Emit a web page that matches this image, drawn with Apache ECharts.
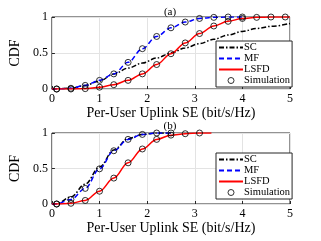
<!DOCTYPE html>
<html><head><meta charset="utf-8">
<script src="https://cdn.jsdelivr.net/npm/echarts@6/dist/echarts.min.js"></script>
<style>html,body{margin:0;padding:0;background:#fff}#c{width:321px;height:241px}</style>
</head><body><div id="c"></div>
<script>
// (a)
const aSCx   = [0, 0.4, 0.7, 1.0, 1.3, 1.6, 1.9, 2.2, 2.5, 2.8, 3.1, 3.4, 3.7, 4.0, 4.3, 4.6, 5.0];
const aSCy   = [0, 0.01, 0.05, 0.11, 0.21, 0.29, 0.36, 0.43, 0.5, 0.57, 0.63, 0.69, 0.75, 0.80, 0.84, 0.87, 0.91];
const aMFx   = [0, 0.1, 0.4, 0.7, 1.0, 1.3, 1.6, 1.9, 2.2, 2.5, 2.8, 3.1, 3.4, 3.7, 4.0];
const aMFy   = [0, 0, 0.01, 0.05, 0.12, 0.21, 0.37, 0.56, 0.73, 0.85, 0.93, 0.98, 0.995, 1, 1];
const aLSFDx = [0, 0.1, 0.4, 0.7, 1.0, 1.3, 1.6, 1.9, 2.2, 2.5, 2.8, 3.1, 3.4, 3.7, 4.0, 4.3, 4.6, 4.9, 5.0];
const aLSFDy = [0, 0, 0, 0.005, 0.025, 0.06, 0.12, 0.21, 0.34, 0.49, 0.64, 0.77, 0.875, 0.94, 0.98, 0.995, 1, 1, 1];
const aSimMFx = [0.1, 0.4, 0.7, 1.0, 1.3, 1.6, 1.9, 2.2, 2.5, 2.8, 3.1, 3.4, 3.7, 4.0];
const aSimMFy = [0, 0.01, 0.05, 0.12, 0.21, 0.37, 0.56, 0.73, 0.85, 0.93, 0.98, 0.995, 1, 1];
const aSimLSFDx = [0.1, 0.4, 0.7, 1.0, 1.3, 1.6, 1.9, 2.2, 2.5, 2.8, 3.1, 3.4, 3.7, 4.0, 4.3, 4.6, 4.9];
const aSimLSFDy = [0, 0, 0.005, 0.025, 0.06, 0.12, 0.21, 0.34, 0.49, 0.64, 0.77, 0.875, 0.94, 0.98, 0.995, 1, 1];
// (b)
const bSCx   = [0, 0.1, 0.4, 0.7, 1.0, 1.3, 1.6, 1.9, 2.2, 2.5];
const bSCy   = [0, 0.005, 0.10, 0.28, 0.52, 0.76, 0.92, 0.98, 1, 1];
const bMFx   = [0, 0.1, 0.4, 0.7, 1.0, 1.3, 1.6, 1.9, 2.2, 2.5];
const bMFy   = [0, 0, 0.065, 0.22, 0.495, 0.75, 0.91, 0.98, 1, 1];
const bLSFDx = [0, 0.1, 0.4, 0.7, 1.0, 1.3, 1.6, 1.9, 2.2, 2.5, 2.8, 3.1, 3.35];
const bLSFDy = [0, 0, 0.01, 0.05, 0.18, 0.365, 0.58, 0.775, 0.91, 0.97, 0.99, 1, 1];
const bSimMFx = [0.1, 0.4, 0.7, 1.0, 1.3, 1.6, 1.9, 2.2, 2.5];
const bSimMFy = [0, 0.065, 0.22, 0.495, 0.75, 0.91, 0.98, 1, 1];
const bSimLSFDx = [0.1, 0.4, 0.7, 1.0, 1.3, 1.6, 1.9, 2.2, 2.5, 2.8, 3.1];
const bSimLSFDy = [0, 0.01, 0.05, 0.18, 0.365, 0.58, 0.775, 0.91, 0.97, 0.99, 1];

const panelTitles = ['(a)', '(b)'];
const xName = 'Per-User Uplink SE (bit/s/Hz)';
const yName = 'CDF';
const legendNames = ['SC', 'MF', 'LSFD', 'Simulation'];

const FONT = '"Liberation Serif", "DejaVu Serif", serif';
const zip = (xs, ys) => xs.map((x, i) => [x, ys[i]]);

const grids = [
  {left: 41, right: 31, top: 17, height: 72, show: true, borderColor: '#262626', borderWidth: 1, backgroundColor: 'transparent'},
  {left: 41, right: 31, top: 133, height: 71, show: true, borderColor: '#262626', borderWidth: 1, backgroundColor: 'transparent'}
];
function xAx(i) {
  return {gridIndex: i, type: 'value', min: 0, max: 5, interval: 1,
    name: xName, nameLocation: 'middle', nameGap: 15,
    nameTextStyle: {fontFamily: FONT, fontSize: 14, color: '#000'},
    axisLine: {show: false}, axisTick: {show: true, inside: true, length: 3, lineStyle: {color: '#262626'}},
    axisLabel: {fontFamily: FONT, fontSize: 12, color: '#000', margin: 4},
    splitLine: {show: true, lineStyle: {color: '#e3e3e3', width: 1}}};
}
function yAx(i) {
  return {gridIndex: i, type: 'value', min: 0, max: 1, interval: 0.5,
    name: yName, nameLocation: 'middle', nameGap: 21, nameRotate: 90,
    nameTextStyle: {fontFamily: FONT, fontSize: 14, color: '#000'},
    axisLine: {show: false}, axisTick: {show: true, inside: true, length: 3, lineStyle: {color: '#262626'}},
    axisLabel: {fontFamily: FONT, fontSize: 12, color: '#000', margin: 4},
    splitLine: {show: true, lineStyle: {color: '#e3e3e3', width: 1}}};
}
function lineSeries(name, i, data, color, type) {
  return {name, type: 'line', xAxisIndex: i, yAxisIndex: i, data, symbol: 'none',
    smooth: 0.35, smoothMonotone: 'x', lineStyle: {color, width: 1.5, type}, itemStyle: {color}, z: 2};
}
function simSeries(i, data) {
  return {name: 'Simulation', type: 'scatter', xAxisIndex: i, yAxisIndex: i, data,
    symbol: 'circle', symbolSize: 6,
    itemStyle: {color: 'rgba(0,0,0,0)', borderColor: '#000', borderWidth: 1}, z: 3};
}
function legend(top, h) {
  return {orient: 'vertical', left: 216, top, width: 74, height: h,
    data: legendNames.map(n => n === 'Simulation'
      ? {name: n, icon: 'circle', itemStyle: {color: 'rgba(0,0,0,0)', borderColor: '#000', borderWidth: 1}}
      : {name: n, itemStyle: {opacity: 0}}),
    itemWidth: 24, itemHeight: 6, itemGap: 0, padding: [1, 2, 1, 2],
    backgroundColor: '#fff', borderColor: '#262626', borderWidth: 1, borderRadius: 0,
    textStyle: {fontFamily: FONT, fontSize: 10.5, color: '#000', padding: [0, 0, 0, -4]}, selectedMode: false};
}

const chart = echarts.init(document.getElementById('c'), null, {renderer: 'canvas'});
chart.setOption({
  animation: false,
  backgroundColor: '#fff',
  title: [
    {text: panelTitles[0], left: 165, top: 2, textAlign: 'center', textStyle: {fontFamily: FONT, fontSize: 11, fontWeight: 'normal', color: '#000'}},
    {text: panelTitles[1], left: 165, top: 116, textAlign: 'center', textStyle: {fontFamily: FONT, fontSize: 11, fontWeight: 'normal', color: '#000'}}
  ],
  grid: grids,
  xAxis: [xAx(0), xAx(1)],
  yAxis: [yAx(0), yAx(1)],
  legend: [legend(41, 48), legend(153, 51)],
  series: [
    lineSeries('SC', 0, zip(aSCx, aSCy), '#000', [5, 2, 1.5, 2]),
    lineSeries('MF', 0, zip(aMFx, aMFy), '#0000ff', [5, 3]),
    lineSeries('LSFD', 0, zip(aLSFDx, aLSFDy), '#ff0000', 'solid'),
    simSeries(0, zip(aSimMFx, aSimMFy).concat(zip(aSimLSFDx, aSimLSFDy))),
    lineSeries('SC', 1, zip(bSCx, bSCy), '#000', [5, 2, 1.5, 2]),
    lineSeries('MF', 1, zip(bMFx, bMFy), '#0000ff', [5, 3]),
    lineSeries('LSFD', 1, zip(bLSFDx, bLSFDy), '#ff0000', 'solid'),
    simSeries(1, zip(bSimMFx, bSimMFy).concat(zip(bSimLSFDx, bSimLSFDy)))
  ]
});
</script></body></html>
